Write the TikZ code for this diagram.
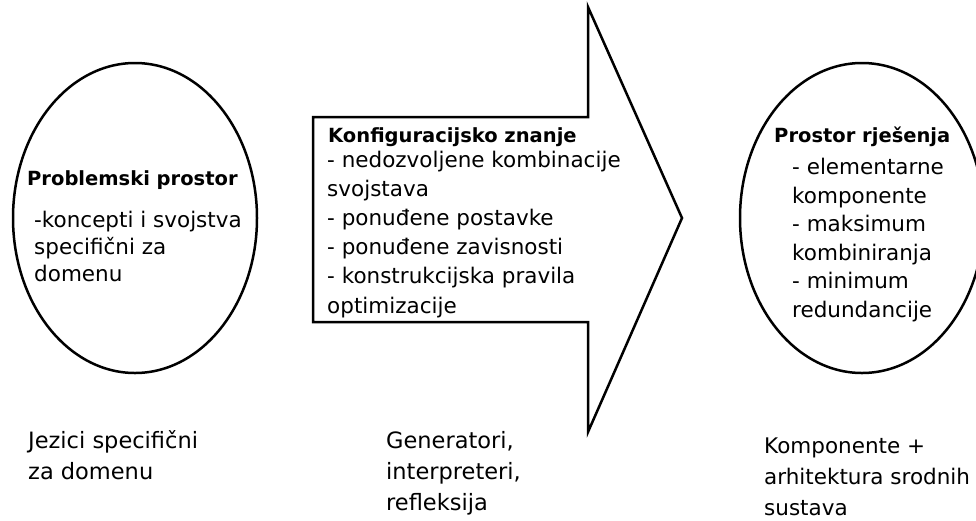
\documentclass[tikz,border=0pt]{standalone}
\usepackage{fontspec}
\setmainfont{DejaVu Sans}
\usepackage{tikz}
\tikzset{
	rub/.style={line width=2.5pt, color=black},
	naslov/.style={font=\fontsize{19.5}{24}\selectfont\bfseries, inner sep=0pt, anchor=base west},
	opis/.style={font=\fontsize{21.5}{#1}\selectfont, align=left, inner sep=0pt, anchor=base west},
	opis/.default=27,
	donji/.style={font=\fontsize{#1}{31}\selectfont, align=left, inner sep=0pt, anchor=base west},
	donji/.default=22.5,
}

\begin{document}
\begin{tikzpicture}[x=1pt, y=-1pt]
			%%%%% START %%%%%
			
			\clip (0, 0) rectangle (976, 520);
			\fill[white] (0, 0) rectangle (976, 520);
			
			% problemski prostor (base = zadnji red)
			\draw[rub] (135, 218) ellipse [x radius=122pt, y radius=155pt];
			\node[naslov] (prob) at (27, 185) {Problemski prostor};
			\node[opis] (probtxt) at (34, 281) {-koncepti i svojstva\\specifični za\\domenu};
			
			% strelica
			\draw[rub, fill=white] (313, 117) -- (588, 117) -- (588, 7) -- (682, 218)
				-- (588, 432) -- (588, 322) -- (313, 322) -- cycle;
			\node[naslov] (konf) at (328, 142) {Konfiguracijsko znanje};
			\node[opis=29.2] (konftxt) at (327, 313) {- nedozvoljene kombinacije\\svojstava\\- ponuđene postavke\\- ponuđene zavisnosti\\- konstrukcijska pravila\\optimizacije};
			
			% prostor rjesenja
			\draw[rub] (862, 218) ellipse [x radius=122pt, y radius=155pt];
			\node[naslov] (rjes) at (774, 142) {Prostor rješenja};
			\node[opis=28.5] (rjestxt) at (792, 317) {- elementarne\\komponente\\- maksimum\\kombiniranja\\- minimum\\redundancije};
			
			% donji tekstovi
			\node[donji] (jez) at (28, 479) {Jezici specifični\\za domenu};
			\node[donji] (gen) at (386, 510) {Generatori,\\interpreteri,\\refleksija};
			\node[donji=21.5] (komp) at (764, 515) {Komponente +\\arhitektura srodnih\\sustava};
			
			%%%%% END %%%%%
\end{tikzpicture}
\end{document}
